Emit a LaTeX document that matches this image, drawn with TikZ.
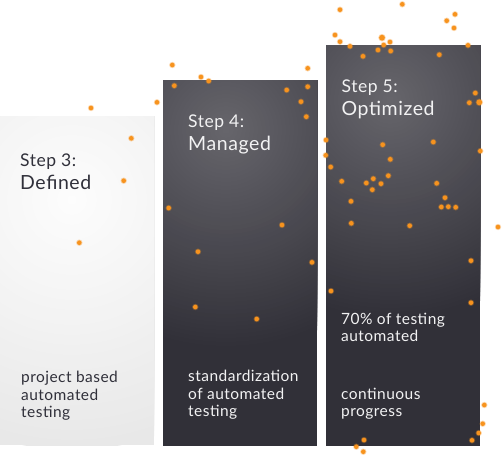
\documentclass[tikz,border=0pt]{standalone}
\usepackage{fontspec}
\setmainfont[LetterSpace=3]{Lato}
\definecolor{dotc}{HTML}{F7931E}
\definecolor{lightin}{HTML}{FDFDFD}
\definecolor{lightout}{HTML}{E8E8E8}
\definecolor{darkin}{HTML}{67666C}
\definecolor{darkout}{HTML}{313038}
\definecolor{txtdark}{HTML}{30303A}
\definecolor{txtlight}{HTML}{F2F2F3}
\begin{document}
\begin{tikzpicture}[x=1pt,y=-1pt,
  steplbl/.style={anchor=base west,inner sep=0pt,font=\fontsize{17.5}{20}\selectfont},
  namelbl/.style={anchor=base west,inner sep=0pt,font=\fontsize{19.5}{22}\selectfont},
  desclbl/.style={anchor=base west,inner sep=0pt,font=\fontsize{15.5}{17}\selectfont},
  onlight/.style={text=txtdark},
  ondark/.style={text=txtlight},
  dotglow/.style={fill=dotc,opacity=0.35},
  dotcore/.style={fill=dotc}]
\useasboundingbox (0,0) rectangle (502,456);
% box 1 (light)
\begin{scope}
  \clip (0,116) rectangle (154,445);
  \fill[lightout] (0,116) rectangle (154,445);
  \foreach \i in {0,...,50} {
    \pgfmathsetmacro\rr{250-5*\i}
    \pgfmathsetmacro\pp{100*\i/50}
    \fill[lightin!\pp!lightout] (72,200) circle (\rr);
  }
\end{scope}
% box 2 (dark)
\begin{scope}
  \clip (163,80) rectangle (317,446);
  \fill[darkout] (163,80) rectangle (317,446);
  \foreach \i in {0,...,55} {
    \pgfmathsetmacro\rr{220-4*\i}
    \pgfmathsetmacro\pp{100*\i/55}
    \fill[darkin!\pp!darkout] (226,130) circle (\rr);
  }
\end{scope}
% box 3 (dark)
\begin{scope}
  \clip (326,45) rectangle (480,446);
  \fill[darkout] (326,45) rectangle (480,446);
  \foreach \i in {0,...,55} {
    \pgfmathsetmacro\rr{220-4*\i}
    \pgfmathsetmacro\pp{100*\i/55}
    \fill[darkin!\pp!darkout] (390,100) circle (\rr);
  }
\end{scope}
% texts
\node[steplbl,onlight] (s3) at (20,166) {Step 3:};
\node[namelbl,onlight] (n3) at (20,189) {Defined};
\node[desclbl,onlight] (d3a) at (21,382.5) {project based};
\node[desclbl,onlight] (d3b) at (21,400) {automated};
\node[desclbl,onlight] (d3c) at (21,417.3) {testing};
\node[steplbl,ondark] (s4) at (188,127.3) {Step 4:};
\node[namelbl,ondark] (n4) at (188,150.7) {Managed};
\node[desclbl,ondark] (d4a) at (188,381.7) {standardization};
\node[desclbl,ondark] (d4b) at (188,399.2) {of automated};
\node[desclbl,ondark] (d4c) at (188,416.7) {testing};
\node[steplbl,ondark] (s5) at (341.5,92.3) {Step 5:};
\node[namelbl,ondark] (n5) at (341.5,115) {Optimized};
\node[desclbl,ondark] (d5a) at (341,324) {70\% of testing};
\node[desclbl,ondark] (d5b) at (341,341.5) {automated};
\node[desclbl,ondark] (d5c) at (341,399) {continuous};
\node[desclbl,ondark] (d5d) at (341,416.5) {progress};
% dots
\foreach \x/\y in {91/108, 131.3/138.3, 123.7/180.7, 79.3/242.7, 157/102.3, 172.3/65,
  174.3/85.7, 201/77, 208.7/81, 286.7/90, 307.7/68.3, 307.7/86.7, 301/101.7, 306.3/116.7,
  168.7/208, 282/225, 198/251.7, 312/262.3, 195.3/307, 256.7/319,
  340/9.7, 402.3/4.3, 335/35, 340/41.7, 350/46.3, 383.7/45, 390/42, 378/50, 390.7/51,
  363/56.3, 439.3/54.7, 446.7/20.7, 455/14.3, 454/28, 468/45.3, 475.3/93, 469.3/102.7,
  326/140, 325.7/155.3, 330.7/167, 382.7/144.7, 433.3/142, 480.3/151, 390.3/159.3,
  341.7/181.3, 366.3/183, 373.3/178.7, 381/183.7, 388.3/175.7, 372.3/189.7, 436.7/183.3,
  351/201.3, 445/197.7, 441.3/207, 448.3/206.7, 455.7/207.3, 351.3/223.3, 409.7/225.7,
  498/227, 471/260.7, 331/291, 471/302.7, 484.3/405, 482.7/423.7, 478.7/433, 472/440.3,
  364/440, 356.3/446.7, 363.3/451.7}
{
  \fill[dotglow] (\x,\y) circle (3.2);
  \fill[dotcore] (\x,\y) circle (2.3);
}
\foreach \x/\y in {382/37.7, 479.3/102.3}
{
  \fill[dotglow] (\x,\y) circle (3.8);
  \fill[dotcore] (\x,\y) circle (2.9);
}
\end{tikzpicture}
\end{document}
